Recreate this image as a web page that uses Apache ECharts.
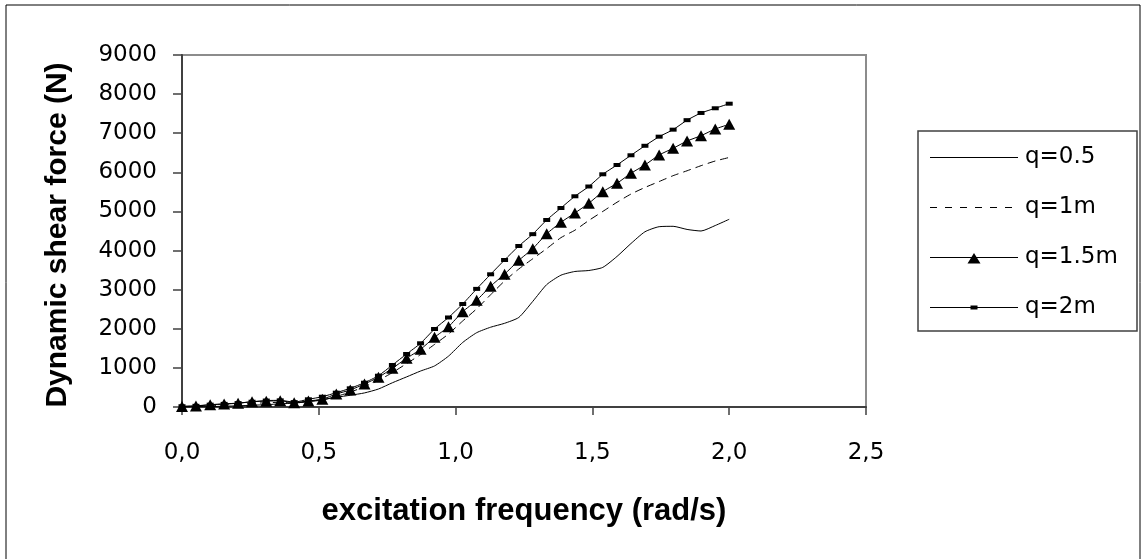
<!DOCTYPE html>
<html>
<head>
<meta charset="utf-8">
<script src="https://cdn.jsdelivr.net/npm/echarts@6/dist/echarts.min.js"></script>
<style>
html, body { margin: 0; padding: 0; background: #fff; }
#chart { width: 1145px; height: 559px; }
</style>
</head>
<body>
<div id="chart"></div>
<script>
// excitation frequency (rad/s), 40 samples from 0 to 2
const freq = [0, 0.051, 0.103, 0.154, 0.205, 0.256, 0.308, 0.359, 0.41, 0.462,
    0.513, 0.564, 0.615, 0.667, 0.718, 0.769, 0.821, 0.872, 0.923, 0.974,
    1.026, 1.077, 1.128, 1.179, 1.231, 1.282, 1.333, 1.385, 1.436, 1.487,
    1.538, 1.59, 1.641, 1.692, 1.744, 1.795, 1.846, 1.897, 1.949, 2.0];

const q05 = [0, 5, 10, 20, 30, 45, 60, 80, 100, 140,
    190, 250, 300, 360, 460, 620, 770, 920, 1050, 1300,
    1650, 1900, 2040, 2140, 2290, 2700, 3130, 3370, 3465, 3490,
    3570, 3850, 4180, 4480, 4610, 4620, 4540, 4500, 4640, 4800];

const q1 = [0, 10, 30, 50, 70, 90, 110, 120, 100, 140,
    175, 270, 380, 520, 680, 880, 1110, 1340, 1600, 1866,
    2200, 2510, 2870, 3222, 3529, 3790, 4050, 4330, 4520, 4770,
    5000, 5235, 5445, 5613, 5765, 5915, 6040, 6170, 6290, 6380];

const q15 = [10, 25, 55, 75, 95, 135, 150, 160, 110, 155,
    200, 332, 435, 588, 759, 990, 1245, 1475, 1782, 2053,
    2437, 2727, 3090, 3397, 3750, 4049, 4429, 4722, 4960, 5209,
    5505, 5720, 5976, 6188, 6444, 6614, 6801, 6937, 7108, 7228];

const q2 = [20, 30, 60, 80, 100, 135, 165, 170, 125, 197,
    263, 366, 478, 621, 800, 1074, 1355, 1629, 1994, 2289,
    2634, 3020, 3393, 3759, 4117, 4419, 4782, 5088, 5388, 5638,
    5950, 6188, 6436, 6679, 6912, 7091, 7334, 7518, 7638, 7755];

const names = ['q=0.5', 'q=1m', 'q=1.5m', 'q=2m'];

function pairs(vals) {
    return freq.map(function (f, i) { return [f, vals[i]]; });
}

// legend icons: line sample (plus marker), 88 x 12 box
const iconSolid = 'path://M0,0 M0,5.5h88v1h-88z M88,12';
const iconDash = 'path://M0,0 M0,5.5h7v1h-7z M15,5.5h7v1h-7z M30,5.5h7v1h-7z M45,5.5h7v1h-7z M60,5.5h7v1h-7z M75,5.5h7v1h-7z M88,12';
const iconTri = 'path://M0,0 M0,5.5h88v1h-88z M37.5,12 L44,1.5 L50.5,12z M88,12';
const iconSq = 'path://M0,0 M0,5.5h88v1h-88z M40.5,4h7v4h-7z M88,12';

const font = 'Liberation Sans';
const wideFont = 'DejaVu Sans';

let chart = echarts.init(document.getElementById('chart'));
let option = {
    animation: false,
    backgroundColor: '#fff',
    textStyle: { fontFamily: font },
    grid: {
        left: 182, top: 55, right: 279, bottom: 152,
        show: true, borderColor: '#8c8c8c', borderWidth: 2
    },
    legend: {
        orient: 'vertical',
        left: 930, top: 146,
        padding: 0,
        itemGap: 27,
        itemWidth: 88,
        itemHeight: 12,
        textStyle: { fontFamily: wideFont, fontSize: 23, color: '#000', padding: [0, 0, 0, 2] },
        itemStyle: { borderWidth: 0 },
        data: [
            { name: names[0], icon: iconSolid },
            { name: names[1], icon: iconDash },
            { name: names[2], icon: iconTri },
            { name: names[3], icon: iconSq }
        ]
    },
    graphic: [
        { type: 'rect', shape: { x: 6, y: 5, width: 1134, height: 560 }, style: { fill: 'transparent', stroke: '#000', lineWidth: 1 }, silent: true },
        { type: 'rect', shape: { x: 918, y: 131, width: 219, height: 200 }, style: { fill: 'transparent', stroke: '#404040', lineWidth: 1.5 }, silent: true }
    ],
    xAxis: {
        type: 'value',
        min: 0, max: 2.5, interval: 0.5,
        name: 'excitation frequency (rad/s)',
        nameLocation: 'middle',
        nameGap: 89,
        nameTextStyle: { fontFamily: font, fontSize: 31, fontWeight: 'bold', color: '#000' },
        axisLine: { lineStyle: { color: '#404040', width: 2 } },
        axisTick: { length: 8, lineStyle: { color: '#404040', width: 1.5 } },
        axisLabel: {
            margin: 35, fontFamily: wideFont, fontSize: 23, color: '#000',
            formatter: function (v) { return v.toFixed(1).replace('.', ','); }
        },
        splitLine: { show: false }
    },
    yAxis: {
        type: 'value',
        min: 0, max: 9000, interval: 1000,
        name: 'Dynamic shear force (N)',
        nameLocation: 'middle',
        nameGap: 109,
        nameTextStyle: { fontFamily: font, fontSize: 30, fontWeight: 'bold', color: '#000', padding: [0, 8, 0, 0] },
        axisLine: { show: true, lineStyle: { color: '#404040', width: 2 } },
        axisTick: { show: true, length: 9, lineStyle: { color: '#404040', width: 1.5 } },
        axisLabel: {
            margin: 25, fontFamily: wideFont, fontSize: 23, color: '#000',
            formatter: function (v) { return String(v); }
        },
        splitLine: { show: false }
    },
    series: [
        {
            name: names[0], type: 'line', data: pairs(q05),
            symbol: 'none', smooth: 0.2, color: '#000',
            lineStyle: { color: '#000', width: 1 }
        },
        {
            name: names[1], type: 'line', data: pairs(q1),
            symbol: 'none', smooth: 0.2, color: '#000',
            lineStyle: { color: '#000', width: 1, type: [8, 5] }
        },
        {
            name: names[2], type: 'line', data: pairs(q15),
            symbol: 'triangle', symbolSize: [12, 11], smooth: 0.2, color: '#000',
            itemStyle: { color: '#000', borderWidth: 0 },
            lineStyle: { color: '#000', width: 1 }
        },
        {
            name: names[3], type: 'line', data: pairs(q2),
            symbol: 'rect', symbolSize: [7, 4], smooth: 0.2, color: '#000',
            itemStyle: { color: '#000', borderWidth: 0 },
            lineStyle: { color: '#000', width: 1 }
        }
    ]
};
chart.setOption(option);
</script>
</body>
</html>
